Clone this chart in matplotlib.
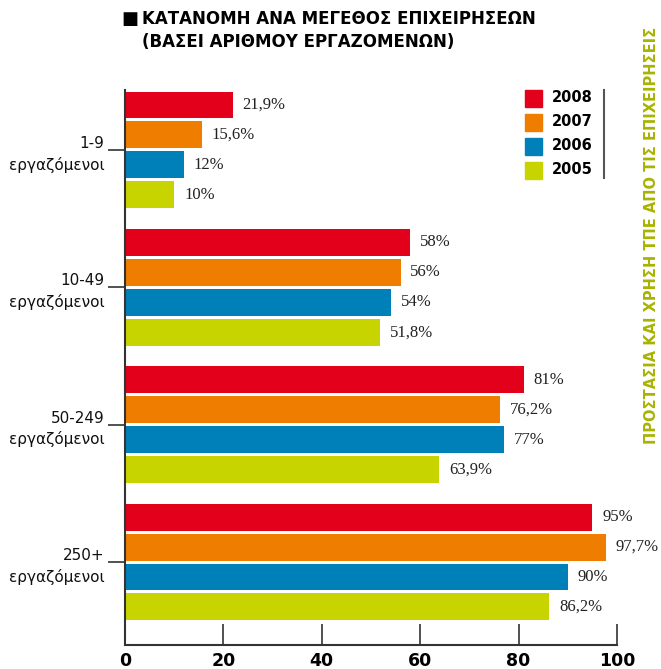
import matplotlib.pyplot as plt
import numpy as np

# --- Data ---
groups = ['1-9\nεργαζόμενοι', '10-49\nεργαζόμενοι', '50-249\nεργαζόμενοι', '250+\nεργαζόμενοι']
years = ['2008', '2007', '2006', '2005']
v2008 = [21.9, 58, 81, 95]
v2007 = [15.6, 56, 76.2, 97.7]
v2006 = [12, 54, 77, 90]
v2005 = [10, 51.8, 63.9, 86.2]
labels2008 = ['21,9%', '58%', '81%', '95%']
labels2007 = ['15,6%', '56%', '76,2%', '97,7%']
labels2006 = ['12%', '54%', '77%', '90%']
labels2005 = ['10%', '51,8%', '63,9%', '86,2%']
colors = ['#e2001a', '#ef7d00', '#0080b9', '#c8d400']
# --------------

W, H = 661, 669
fig = plt.figure(figsize=(W / 100, H / 100), dpi=100)
ax = fig.add_axes([125 / W, (H - 645) / H, (617 - 125) / W, (645 - 90) / H])

series = [v2008, v2007, v2006, v2005]
texts = [labels2008, labels2007, labels2006, labels2005]
pitch = 0.218
y = np.arange(len(groups))
for i, (vals, labs) in enumerate(zip(series, texts)):
    pos = y + (i - 1.5) * pitch
    ax.barh(pos, vals, height=0.196, color=colors[i], zorder=2)
    for p, v, t in zip(pos, vals, labs):
        ax.text(v + 2.0, p, t, va='center', ha='left', fontsize=12,
                family='Liberation Serif', color='#222222')

ax.set_xlim(0, 100)
ax.set_ylim(3.604, -0.436)
for s in ['top', 'right']:
    ax.spines[s].set_visible(False)
ax.spines['left'].set_color('#333333')
ax.spines['bottom'].set_color('#333333')
ax.spines['left'].set_linewidth(1.5)
ax.spines['bottom'].set_linewidth(1.5)

ax.set_yticks(y)
ax.set_yticklabels(groups, fontsize=11, multialignment='right', color='#111111',
                   linespacing=1.45)
ax.tick_params(axis='y', direction='out', length=12, width=1.2, pad=3, color='#333333')
ax.set_xticks([0, 20, 40, 60, 80, 100])
ax.set_xticklabels(['0', '20', '40', '60', '80', '100'], fontsize=12.5, fontweight='bold')
ax.tick_params(axis='x', direction='in', length=15, width=1.2, pad=5, color='#333333')

# title
fig.text(121 / W, 1 - 19 / H, '■', fontsize=13, va='center', ha='left')
fig.text(142 / W, 1 - 19 / H, 'ΚΑΤΑΝΟΜΗ ΑΝΑ ΜΕΓΕΘΟΣ ΕΠΙΧΕΙΡΗΣΕΩΝ', fontsize=12,
         fontweight='bold', va='center', ha='left')
fig.text(142 / W, 1 - 42 / H, '(ΒΑΣΕΙ ΑΡΙΘΜΟΥ ΕΡΓΑΖΟΜΕΝΩΝ)', fontsize=12,
         fontweight='bold', va='center', ha='left')

# legend
for i, yr in enumerate(years):
    yy = 1 - (98 + i * 24) / H
    fig.patches.append(plt.Rectangle((525 / W, yy - 8.5 / H), 17 / W, 17 / H,
                                     transform=fig.transFigure, color=colors[i]))
    fig.text(552 / W, yy, yr, fontsize=10.5, fontweight='bold', va='center', ha='left')
fig.lines.append(plt.Line2D([604 / W, 604 / W], [1 - 90 / H, 1 - 178 / H],
                            transform=fig.transFigure, color='#555555', lw=1.5))

# side caption
fig.text(652 / W, 1 - 235 / H, 'ΠΡΟΣΤΑΣΙΑ ΚΑΙ ΧΡΗΣΗ ΤΠΕ ΑΠΟ ΤΙΣ ΕΠΙΧΕΙΡΗΣΕΙΣ', rotation=90,
         fontsize=10.5, fontweight='bold', color='#a8b400', va='center', ha='center')

fig.savefig('out.png', dpi=100)
